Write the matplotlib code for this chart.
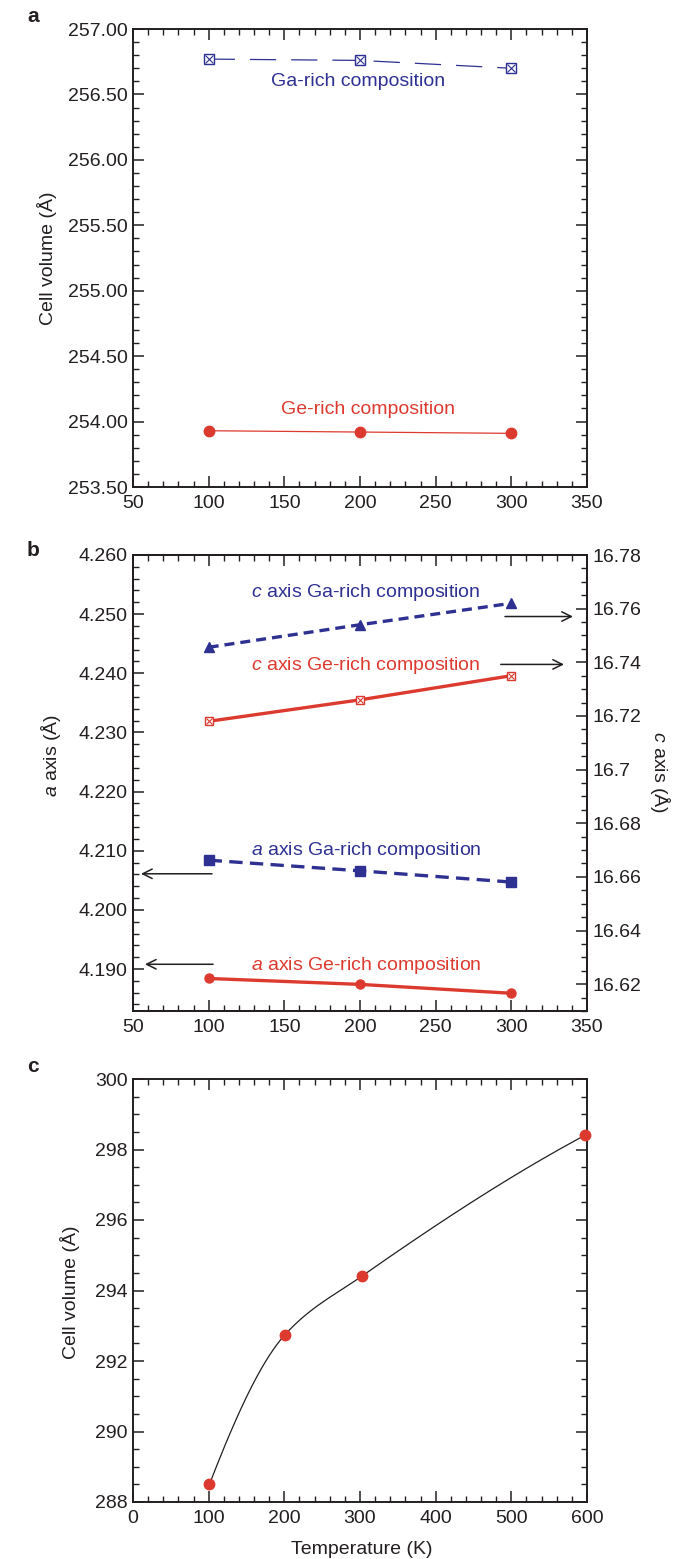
import numpy as np
import matplotlib
matplotlib.use("Agg")
import matplotlib.pyplot as plt
from matplotlib.ticker import MultipleLocator, FuncFormatter

# ---------------- data ----------------
# a: cell volume vs temperature
temp_a = [100, 200, 300]
vol_ga_rich = [256.77, 256.76, 256.70]
vol_ge_rich = [253.93, 253.92, 253.91]

# b: lattice parameters (a on left axis, c on right axis)
temp_b = [100, 200, 300]
c_ga_rich = [16.7456, 16.7540, 16.7620]
c_ge_rich = [16.7180, 16.7260, 16.7350]
a_ga_rich = [4.2084, 4.2066, 4.2047]
a_ge_rich = [4.1884, 4.1874, 4.1859]

# c: cell volume, wider temperature range
temp_c = [101, 201, 302, 597]
vol_c = [288.5, 292.75, 294.4, 298.4]

# ---------------- style ----------------
BLUE = "#2E3192"
RED = "#DD3A2F"
INK = "#231F20"
FS = 14

plt.rcParams.update({
    "font.family": ["Liberation Sans", "DejaVu Sans"],
    "mathtext.fontset": "custom",
    "mathtext.rm": "Liberation Sans",
    "mathtext.it": "Liberation Sans:italic",
    "text.color": INK,
})

W, H = 682, 1559
fig = plt.figure(figsize=(W / 100, H / 100), dpi=100)


def box(x0, y0, x1, y1):
    # pixel box -> figure fraction rect
    return [x0 / W, 1 - y1 / H, (x1 - x0) / W, (y1 - y0) / H]


def px(x, y):
    return x / W, 1 - y / H


def style(ax, right=True, left=True):
    ax.tick_params(which="both", direction="in", top=True, right=right, left=left,
                   labelsize=FS, colors=INK)
    ax.tick_params(axis="x", pad=6)
    ax.tick_params(axis="y", pad=4)
    ax.tick_params(which="major", length=8, width=1.1)
    ax.tick_params(which="minor", length=4, width=1.0)
    for s in ax.spines.values():
        s.set_linewidth(1.4)
        s.set_color(INK)


def pchip(x, y, xs):
    # monotone cubic (Fritsch-Carlson) through the measured points
    x = np.asarray(x, float)
    y = np.asarray(y, float)
    h = np.diff(x)
    delta = np.diff(y) / h
    n = len(x)
    m = np.zeros(n)
    for k in range(1, n - 1):
        if delta[k - 1] * delta[k] > 0:
            w1 = 2 * h[k] + h[k - 1]
            w2 = h[k] + 2 * h[k - 1]
            m[k] = (w1 + w2) / (w1 / delta[k - 1] + w2 / delta[k])
    m[0] = ((2 * h[0] + h[1]) * delta[0] - h[0] * delta[1]) / (h[0] + h[1])
    m[-1] = ((2 * h[-1] + h[-2]) * delta[-1] - h[-1] * delta[-2]) / (h[-1] + h[-2])
    idx = np.clip(np.searchsorted(x, xs) - 1, 0, n - 2)
    t = (xs - x[idx]) / h[idx]
    h00 = 2 * t ** 3 - 3 * t ** 2 + 1
    h10 = t ** 3 - 2 * t ** 2 + t
    h01 = -2 * t ** 3 + 3 * t ** 2
    h11 = t ** 3 - t ** 2
    return (h00 * y[idx] + h10 * h[idx] * m[idx]
            + h01 * y[idx + 1] + h11 * h[idx] * m[idx + 1])


def crossed_square(ax, x, y, color, ms, lw):
    ax.plot(x, y, ls="none", marker="s", ms=ms, mfc="white", mec=color, mew=lw, zorder=4)
    ax.plot(x, y, ls="none", marker="x", ms=ms * 0.72, mec=color, mew=lw * 0.8, zorder=5)


# ---------------- panel a ----------------
ax_a = fig.add_axes(box(133, 29, 587, 487))
ax_a.plot(temp_a, vol_ga_rich, color=BLUE, lw=0.9, dashes=(21, 12))
crossed_square(ax_a, temp_a, vol_ga_rich, BLUE, 7.5, 1.0)
ax_a.plot(temp_a, vol_ge_rich, color=RED, lw=0.9, marker="o", ms=7.5)
ax_a.text(199, 256.595, "Ga-rich composition", color=BLUE, fontsize=FS,
          ha="center", va="center")
ax_a.text(205, 254.096, "Ge-rich composition", color=RED, fontsize=FS,
          ha="center", va="center")
ax_a.set_xlim(50, 350)
ax_a.set_ylim(253.5, 257.0)
ax_a.xaxis.set_major_locator(MultipleLocator(50))
ax_a.xaxis.set_minor_locator(MultipleLocator(10))
ax_a.yaxis.set_major_locator(MultipleLocator(0.5))
ax_a.yaxis.set_minor_locator(MultipleLocator(0.1))
ax_a.yaxis.set_major_formatter(FuncFormatter(lambda v, p: f"{v:.2f}"))
style(ax_a)

# ---------------- panel b ----------------
ax_b = fig.add_axes(box(133, 555, 587, 1011))
ax_c_axis = ax_b.twinx()

ax_c_axis.plot(temp_b, c_ga_rich, color=BLUE, lw=2.4, dashes=(3, 1.8),
               marker="^", ms=7)
ax_c_axis.plot(temp_b, c_ge_rich, color=RED, lw=2.4)
crossed_square(ax_c_axis, temp_b, c_ge_rich, RED, 6, 1.0)

ax_b.plot(temp_b, a_ga_rich, color=BLUE, lw=2.4, dashes=(4, 2.2),
          marker="s", ms=6.5)
ax_b.plot(temp_b, a_ge_rich, color=RED, lw=2.4, marker="o", ms=6.5)

ax_b.text(204, 4.2536, r"$\it{c}$ axis Ga-rich composition", color=BLUE,
          fontsize=FS, ha="center", va="center")
ax_b.text(204, 4.2413, r"$\it{c}$ axis Ge-rich composition", color=RED,
          fontsize=FS, ha="center", va="center")
ax_b.text(204, 4.2101, r"$\it{a}$ axis Ga-rich composition", color=BLUE,
          fontsize=FS, ha="center", va="center")
ax_b.text(204, 4.1906, r"$\it{a}$ axis Ge-rich composition", color=RED,
          fontsize=FS, ha="center", va="center")

arrow = dict(arrowstyle="->", lw=1.1, color=INK, mutation_scale=17,
             shrinkA=0, shrinkB=0)
ax_b.annotate("", xy=(340.7, 4.2496), xytext=(295.8, 4.2496), arrowprops=arrow)
ax_b.annotate("", xy=(334.8, 4.2415), xytext=(293.0, 4.2415), arrowprops=arrow)
ax_b.annotate("", xy=(55.3, 4.2061), xytext=(102.2, 4.2061), arrowprops=arrow)
ax_b.annotate("", xy=(57.9, 4.1908), xytext=(102.9, 4.1908), arrowprops=arrow)

ax_b.set_xlim(50, 350)
ax_b.set_ylim(4.1829, 4.2600)
ax_c_axis.set_ylim(16.61, 16.78)
ax_b.xaxis.set_major_locator(MultipleLocator(50))
ax_b.xaxis.set_minor_locator(MultipleLocator(10))
ax_b.yaxis.set_major_locator(MultipleLocator(0.01))
ax_b.yaxis.set_minor_locator(MultipleLocator(0.002))
ax_b.yaxis.set_major_formatter(FuncFormatter(lambda v, p: f"{v:.3f}"))
ax_c_axis.yaxis.set_major_locator(MultipleLocator(0.02))
ax_c_axis.yaxis.set_minor_locator(MultipleLocator(0.005))
ax_c_axis.yaxis.set_major_formatter(FuncFormatter(lambda v, p: f"{round(v, 2):g}"))
style(ax_b, right=False)
style(ax_c_axis, left=False)
ax_c_axis.tick_params(which="both", top=False, labelright=True)

# ---------------- panel c ----------------
ax_c = fig.add_axes(box(133, 1079, 587, 1502))
t_fine = np.linspace(temp_c[0], temp_c[-1], 300)
ax_c.plot(t_fine, pchip(temp_c, vol_c, t_fine), color=INK, lw=0.9)
ax_c.plot(temp_c, vol_c, ls="none", marker="o", ms=7.5, color=RED, clip_on=False,
          zorder=5)
ax_c.set_xlim(0, 600)
ax_c.set_ylim(288, 300)
ax_c.xaxis.set_major_locator(MultipleLocator(100))
ax_c.xaxis.set_minor_locator(MultipleLocator(20))
ax_c.yaxis.set_major_locator(MultipleLocator(2))
ax_c.yaxis.set_minor_locator(MultipleLocator(0.5))
style(ax_c)

# ---------------- labels ----------------
fig.text(*px(47, 258), "Cell volume (Å)", rotation=90, fontsize=FS,
         ha="center", va="center")
fig.text(*px(51, 755), r"$\it{a}$ axis (Å)", rotation=90, fontsize=FS,
         ha="center", va="center")
fig.text(*px(660, 772), r"$\it{c}$ axis (Å)", rotation=270, fontsize=FS,
         ha="center", va="center")
fig.text(*px(70, 1292), "Cell volume (Å)", rotation=90, fontsize=FS,
         ha="center", va="center")
fig.text(*px(362, 1549), "Temperature (K)", fontsize=FS, ha="center", va="center")

for letter, (x, y) in zip("abc", [(33, 16), (33, 550), (33, 1067)]):
    fig.text(*px(x, y), letter, fontsize=15, fontweight="bold",
             ha="center", va="center")

fig.savefig("out.png", dpi=100)
